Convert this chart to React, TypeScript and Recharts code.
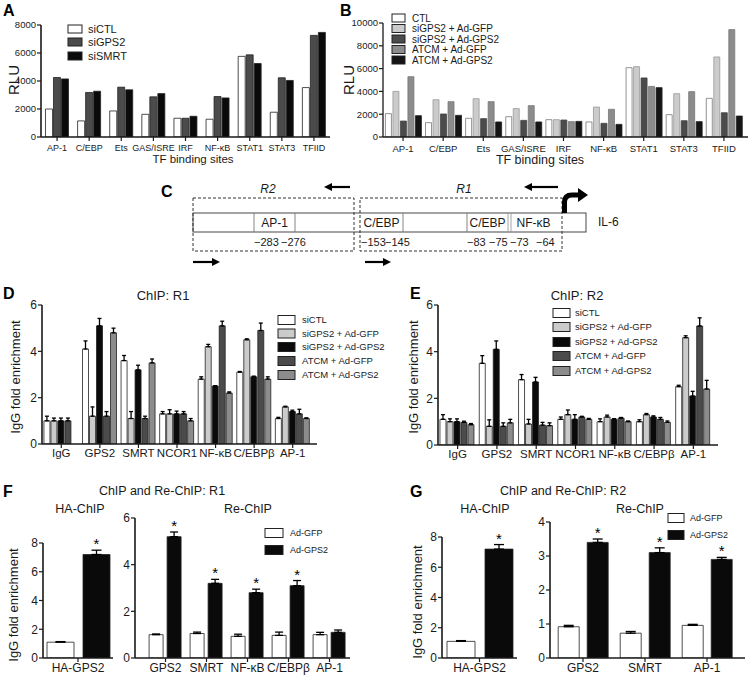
import React from 'react';
import { BarChart, Bar, XAxis, YAxis, ErrorBar, LabelList } from 'recharts';

const FONT = "'Liberation Sans', Arial, Helvetica, sans-serif";
const INK = '#1a1a1a';

// ---------- Panel A ----------
const aCats = ['AP-1', 'C/EBP', 'Ets', 'GAS/ISRE', 'IRF', 'NF-κB', 'STAT1', 'STAT3', 'TFIID'];
const aSiCTL = [2000, 1150, 1860, 1620, 1340, 1270, 5760, 1770, 3530];
const aSiGPS2 = [4250, 3180, 3560, 2870, 1340, 2890, 5870, 4230, 7260];
const aSiSMRT = [4150, 3270, 3370, 3100, 1480, 2790, 5250, 4040, 7470];
const aTicks = [0, 2000, 4000, 6000, 8000];

// ---------- Panel B ----------
const bCats = aCats;
const bCTL = [2050, 1260, 1640, 1780, 1520, 1320, 6080, 1960, 3390];
const bSiGfp = [4000, 3270, 3360, 2490, 1520, 2630, 6170, 3800, 7020];
const bSiGps2 = [1400, 2020, 1610, 1460, 1490, 1200, 5180, 1430, 2130];
const bAtGfp = [5290, 3100, 3100, 2750, 1350, 2430, 4440, 3980, 9420];
const bAtGps2 = [1870, 1900, 1320, 1320, 1370, 1110, 4330, 1350, 1840];
const bTicks = [0, 2000, 4000, 6000, 8000, 10000];

// ---------- Panel C (schematic) ----------
const cSites = ['AP-1', 'C/EBP', 'C/EBP', 'NF-κB'];
const cPositions = ['−283', '−276', '−153', '−145', '−83', '−75', '−73', '−64'];
const cRegions = ['R2', 'R1'];

// ---------- Panel D ----------
const dCats = ['IgG', 'GPS2', 'SMRT', 'NCOR1', 'NF-κB', 'C/EBPβ', 'AP-1'];
const dSiCTL = [1.0, 4.1, 3.6, 1.3, 2.8, 3.1, 1.1];
const dSiCTLErr = [0.2, 0.35, 0.22, 0.1, 0.1, 0.03, 0.05];
const dSiGfp = [1.0, 1.2, 1.1, 1.3, 4.2, 4.5, 1.6];
const dSiGfpErr = [0.12, 0.4, 0.3, 0.18, 0.1, 0.04, 0.03];
const dSiGps2 = [1.0, 5.1, 3.2, 1.3, 2.5, 2.9, 1.4];
const dSiGps2Err = [0.12, 0.32, 0.2, 0.12, 0.02, 0.03, 0.06];
const dAtGfp = [1.0, 1.2, 1.1, 1.3, 5.1, 4.9, 1.3];
const dAtGfpErr = [0.12, 0.2, 0.1, 0.1, 0.2, 0.32, 0.2];
const dAtGps2 = [null, 4.8, 3.5, 1.0, 2.2, 2.8, 1.1];
const dAtGps2Err = [null, 0.2, 0.17, 0.1, 0.05, 0.1, 0.03];
const dTicks = [0, 2, 4, 6];

// ---------- Panel E ----------
const eCats = dCats;
const eSiCTL = [1.1, 3.5, 2.8, 1.1, 1.0, 1.0, 2.5];
const eSiCTLErr = [0.2, 0.33, 0.22, 0.1, 0.12, 0.08, 0.06];
const eSiGfp = [1.0, 0.8, 0.9, 1.3, 1.2, 1.3, 4.6];
const eSiGfpErr = [0.12, 0.28, 0.2, 0.2, 0.08, 0.05, 0.08];
const eSiGps2 = [1.0, 4.1, 2.7, 1.1, 1.1, 1.2, 2.1];
const eSiGps2Err = [0.12, 0.36, 0.2, 0.2, 0.03, 0.05, 0.2];
const eAtGfp = [0.97, 0.8, 0.85, 1.2, 1.15, 1.1, 5.1];
const eAtGfpErr = [0.05, 0.15, 0.12, 0.03, 0.03, 0.08, 0.35];
const eAtGps2 = [0.87, 0.95, 0.83, 1.1, 1.0, 0.97, 2.4];
const eAtGps2Err = [0.05, 0.15, 0.12, 0.04, 0.03, 0.06, 0.37];

// ---------- Panel F ----------
const fHaCats = ['HA-GPS2'];
const fHaGfp = [1.1];
const fHaGfpErr = [0.04];
const fHaGps2 = [7.2];
const fHaGps2Err = [0.3];
const fHaStars = [true];
const haTicks = [0, 2, 4, 6, 8];
const fReCats = ['GPS2', 'SMRT', 'NF-κB', 'C/EBPβ', 'AP-1'];
const fReGfp = [1.0, 1.05, 0.93, 0.97, 1.0];
const fReGfpErr = [0.03, 0.06, 0.09, 0.14, 0.1];
const fReGps2 = [5.2, 3.2, 2.8, 3.1, 1.1];
const fReGps2Err = [0.2, 0.17, 0.15, 0.22, 0.1];
const fReStars = [true, true, true, true, false];
const fReTicks = [0, 2, 4, 6];

// ---------- Panel G ----------
const gHaCats = ['HA-GPS2'];
const gHaGfp = [1.1];
const gHaGfpErr = [0.05];
const gHaGps2 = [7.2];
const gHaGps2Err = [0.3];
const gHaStars = [true];
const gReCats = ['GPS2', 'SMRT', 'AP-1'];
const gReGfp = [0.92, 0.73, 0.96];
const gReGfpErr = [0.04, 0.05, 0.03];
const gReGps2 = [3.4, 3.1, 2.9];
const gReGps2Err = [0.1, 0.14, 0.06];
const gReStars = [true, true, true];
const gReTicks = [0, 1, 2, 3, 4];

// ---------- colours ----------
const WHITE = '#ffffff';
const LIGHT = '#cbcbcb';
const DARK = '#4b4b4b';
const MID = '#8c8c8c';
const BLACK = '#0a0a0a';

type S = {
  name: string;
  fill: string;
  values: (number | null)[];
  errs?: (number | null)[];
  stars?: boolean[];
  stroke?: string;
};

const aSeries: S[] = [
  { name: 'siCTL', fill: WHITE, values: aSiCTL },
  { name: 'siGPS2', fill: DARK, values: aSiGPS2 },
  { name: 'siSMRT', fill: BLACK, values: aSiSMRT },
];
const bSeries: S[] = [
  { name: 'CTL', fill: WHITE, values: bCTL, stroke: '#777' },
  { name: 'siGPS2 + Ad-GFP', fill: LIGHT, values: bSiGfp, stroke: '#999' },
  { name: 'siGPS2 + Ad-GPS2', fill: DARK, values: bSiGps2, stroke: '#444' },
  { name: 'ATCM + Ad-GFP', fill: MID, values: bAtGfp, stroke: '#777' },
  { name: 'ATCM + Ad-GPS2', fill: '#151515', values: bAtGps2 },
];
const dSeries: S[] = [
  { name: 'siCTL', fill: WHITE, values: dSiCTL, errs: dSiCTLErr },
  { name: 'siGPS2 + Ad-GFP', fill: LIGHT, values: dSiGfp, errs: dSiGfpErr },
  { name: 'siGPS2 + Ad-GPS2', fill: BLACK, values: dSiGps2, errs: dSiGps2Err },
  { name: 'ATCM + Ad-GFP', fill: DARK, values: dAtGfp, errs: dAtGfpErr },
  { name: 'ATCM + Ad-GPS2', fill: MID, values: dAtGps2, errs: dAtGps2Err },
];
const eSeries: S[] = [
  { name: 'siCTL', fill: WHITE, values: eSiCTL, errs: eSiCTLErr },
  { name: 'siGPS2 + Ad-GFP', fill: LIGHT, values: eSiGfp, errs: eSiGfpErr },
  { name: 'siGPS2 + Ad-GPS2', fill: BLACK, values: eSiGps2, errs: eSiGps2Err },
  { name: 'ATCM + Ad-GFP', fill: DARK, values: eAtGfp, errs: eAtGfpErr },
  { name: 'ATCM + Ad-GPS2', fill: MID, values: eAtGps2, errs: eAtGps2Err },
];
const fHaSeries: S[] = [
  { name: 'Ad-GFP', fill: WHITE, values: fHaGfp, errs: fHaGfpErr },
  { name: 'Ad-GPS2', fill: BLACK, values: fHaGps2, errs: fHaGps2Err, stars: fHaStars },
];
const fReSeries: S[] = [
  { name: 'Ad-GFP', fill: WHITE, values: fReGfp, errs: fReGfpErr },
  { name: 'Ad-GPS2', fill: BLACK, values: fReGps2, errs: fReGps2Err, stars: fReStars },
];
const gHaSeries: S[] = [
  { name: 'Ad-GFP', fill: WHITE, values: gHaGfp, errs: gHaGfpErr },
  { name: 'Ad-GPS2', fill: BLACK, values: gHaGps2, errs: gHaGps2Err, stars: gHaStars },
];
const gReSeries: S[] = [
  { name: 'Ad-GFP', fill: WHITE, values: gReGfp, errs: gReGfpErr },
  { name: 'Ad-GPS2', fill: BLACK, values: gReGps2, errs: gReGps2Err, stars: gReStars },
];

function buildData(cats: string[], series: S[]) {
  return cats.map((c, i) => {
    const row: any = { cat: c };
    series.forEach((s, j) => {
      row['v' + j] = s.values[i];
      if (s.errs) {
        const e = s.errs[i];
        row['e' + j] = e == null ? null : [0, e];
      }
    });
    return row;
  });
}

const YW = 40;
const MT = 10;
const MR = 2;
const XH = 30;

type PanelProps = {
  x0: number;
  x1: number;
  yTop: number;
  yBot: number;
  yMax: number;
  ticks: number[];
  cats: string[];
  series: S[];
  padL?: number;
  padR?: number;
  catGap: number | string;
  barGap: number;
  yFont: number;
  xFont: number;
  capW?: number;
  axisW?: number;
  xMargin?: number;
};

function Panel(p: PanelProps) {
  const data = buildData(p.cats, p.series);
  const width = YW + (p.x1 - p.x0) + MR;
  const height = MT + (p.yBot - p.yTop) + XH;
  const axisW = p.axisW ?? 1.6;
  return (
    <div style={{ position: 'absolute', left: p.x0 - YW, top: p.yTop - MT, width, height }}>
      <BarChart
        width={width}
        height={height}
        data={data}
        margin={{ top: MT, right: MR, left: 0, bottom: 0 }}
        barCategoryGap={p.catGap}
        barGap={p.barGap}
      >
        <XAxis
          dataKey="cat"
          interval={0}
          tickSize={4}
          tickMargin={p.xMargin ?? 1}
          height={XH}
          padding={{ left: p.padL ?? 0, right: p.padR ?? 0 }}
          axisLine={{ stroke: INK, strokeWidth: axisW }}
          tickLine={{ stroke: INK, strokeWidth: 1.2 }}
          tick={{ fill: INK, fontSize: p.xFont, fontFamily: FONT }}
        />
        <YAxis
          type="number"
          domain={[0, p.yMax]}
          ticks={p.ticks}
          width={YW}
          tickSize={4}
          tickMargin={1}
          allowDataOverflow
          axisLine={{ stroke: INK, strokeWidth: axisW }}
          tickLine={{ stroke: INK, strokeWidth: 1.2 }}
          tick={{ fill: INK, fontSize: p.yFont, fontFamily: FONT }}
        />
        {p.series.map((s, j) => (
          <Bar
            key={j}
            dataKey={'v' + j}
            fill={s.fill}
            stroke={s.stroke ?? '#222'}
            strokeWidth={0.8}
            isAnimationActive={false}
          >
            {s.errs ? (
              <ErrorBar
                dataKey={'e' + j}
                width={p.capW ?? 2.5}
                stroke="#000"
                strokeWidth={1.3}
                direction="y"
                isAnimationActive={false}
              />
            ) : null}
            {s.stars ? (
              <LabelList
                dataKey={'v' + j}
                content={(lp: any) => {
                  const idx = lp.index;
                  if (idx == null || !s.stars![idx]) return null;
                  const v = Number(lp.value);
                  const err = (s.errs && s.errs[idx]) || 0;
                  const errPx = v ? (err * Number(lp.height)) / v : 0;
                  return (
                    <text
                      x={Number(lp.x) + Number(lp.width) / 2}
                      y={Number(lp.y) - errPx - 1}
                      textAnchor="middle"
                      fontSize={15}
                      fontFamily={FONT}
                      fill="#000"
                    >
                      *
                    </text>
                  );
                }}
              />
            ) : null}
          </Bar>
        ))}
      </BarChart>
    </div>
  );
}

type LegendProps = {
  series: S[];
  bx: number;
  by: number[];
  bw: number;
  bh: number;
  tx: number;
  font: number;
};

function Legend({ series, bx, by, bw, bh, tx, font }: LegendProps) {
  return (
    <g>
      {series.map((s, i) => (
        <g key={i}>
          <rect x={bx} y={by[i] - bh / 2} width={bw} height={bh} fill={s.fill} stroke="#222" strokeWidth={1} />
          <text x={tx} y={by[i] + font * 0.36} fontSize={font} fontFamily={FONT} fill={INK}>
            {s.name}
          </text>
        </g>
      ))}
    </g>
  );
}

function Letter({ x, y, t }: { x: number; y: number; t: string }) {
  return (
    <text x={x} y={y} fontSize={16} fontWeight={900} fontFamily={FONT} fill="#000">
      {t}
    </text>
  );
}

function Txt({ x, y, t, size, anchor = 'middle', italic = false }: any) {
  return (
    <text
      x={x}
      y={y}
      fontSize={size}
      fontFamily={FONT}
      textAnchor={anchor}
      fontStyle={italic ? 'italic' : 'normal'}
      fill={INK}
    >
      {t}
    </text>
  );
}

function VLabel({ x, y, t, size }: any) {
  return (
    <text
      x={x}
      y={y}
      fontSize={size}
      fontFamily={FONT}
      textAnchor="middle"
      fill={INK}
      transform={`rotate(-90 ${x} ${y})`}
      dominantBaseline="central"
    >
      {t}
    </text>
  );
}

function Arrow({ x1, x2, y }: { x1: number; x2: number; y: number }) {
  const dir = x2 > x1 ? 1 : -1;
  const hx = x2 - dir * 8;
  return (
    <g>
      <line x1={x1} y1={y} x2={hx} y2={y} stroke="#000" strokeWidth={2.2} />
      <polygon points={`${x2},${y} ${hx},${y - 4} ${hx},${y + 4}`} fill="#000" />
    </g>
  );
}

function Schematic() {
  const top = 213;
  const bot = 232;
  const dash = '3,2';
  return (
    <g fontFamily={FONT}>
      <rect x={193} y={top} width={393} height={bot - top} fill="#fff" stroke="#333" strokeWidth={0.9} />
      <line x1={254} y1={top} x2={254} y2={bot} stroke="#777" strokeWidth={0.9} />
      <line x1={295} y1={top} x2={295} y2={bot} stroke="#777" strokeWidth={0.9} />
      <line x1={403} y1={top} x2={403} y2={bot} stroke="#777" strokeWidth={0.9} />
      <line x1={467} y1={top} x2={467} y2={bot} stroke="#777" strokeWidth={0.9} />
      <line x1={508} y1={top} x2={508} y2={bot} stroke="#999" strokeWidth={0.9} />
      <line x1={511} y1={top} x2={511} y2={bot} stroke="#999" strokeWidth={0.9} />
      <rect x={193} y={198} width={161} height={53} fill="none" stroke="#333" strokeWidth={1} strokeDasharray={dash} />
      <rect x={360} y={198} width={202} height={53} fill="none" stroke="#333" strokeWidth={1} strokeDasharray={dash} />
      <Txt x={274.5} y={227} t={cSites[0]} size={12} />
      <Txt x={381.5} y={227} t={cSites[1]} size={12} />
      <Txt x={487.5} y={227} t={cSites[2]} size={12} />
      <Txt x={533.5} y={227} t={cSites[3]} size={12} />
      <Txt x={254} y={246} t={cPositions[0]} size={11} anchor="start" />
      <Txt x={281} y={246} t={cPositions[1]} size={11} anchor="start" />
      <Txt x={361} y={246} t={cPositions[2]} size={11} anchor="start" />
      <Txt x={385} y={246} t={cPositions[3]} size={11} anchor="start" />
      <Txt x={467} y={246} t={cPositions[4]} size={11} anchor="start" />
      <Txt x={489} y={246} t={cPositions[5]} size={11} anchor="start" />
      <Txt x={510} y={246} t={cPositions[6]} size={11} anchor="start" />
      <Txt x={536} y={246} t={cPositions[7]} size={11} anchor="start" />
      <Txt x={268} y={193} t={cRegions[0]} size={12} italic />
      <Txt x={464} y={193} t={cRegions[1]} size={12} italic />
      <Arrow x1={350} x2={324} y={187} />
      <Arrow x1={558} x2={524} y={187} />
      <Arrow x1={193} x2={220} y={262} />
      <Arrow x1={365} x2={391} y={262} />
      <path d="M 564.5 213 L 564.5 202 Q 564.5 195 572 195 L 578 195" fill="none" stroke="#000" strokeWidth={5} />
      <polygon points="588,195 578,188 578,202" fill="#000" />
      <Txt x={598} y={226} t="IL-6" size={12} anchor="start" />
    </g>
  );
}

export default function App() {
  return (
    <div style={{ position: 'absolute', left: 0, top: 0, width: 756, height: 681, background: '#fff', overflow: 'hidden' }}>
      {/* A */}
      <Panel x0={41} x1={330} yTop={25} yBot={137} yMax={8000} ticks={aTicks} cats={aCats} series={aSeries}
        catGap="14%" barGap={1} yFont={9.5} xFont={9} xMargin={4} />
      {/* B */}
      <Panel x0={383} x1={748} yTop={23} yBot={137} yMax={10000} ticks={bTicks} cats={bCats} series={bSeries}
        padR={4} catGap="6%" barGap={1.5} yFont={9.5} xFont={9.5} axisW={1.3} xMargin={4} />
      {/* D */}
      <Panel x0={42} x1={317} yTop={305} yBot={444} yMax={6} ticks={dTicks} cats={dCats} series={dSeries}
        padR={5} catGap="5%" barGap={1} yFont={12} xFont={11.5} capW={2} />
      {/* E */}
      <Panel x0={438} x1={718} yTop={305} yBot={445} yMax={6} ticks={dTicks} cats={eCats} series={eSeries}
        padR={5} catGap="5%" barGap={1} yFont={12} xFont={11.5} capW={2} />
      {/* F */}
      <Panel x0={43} x1={113} yTop={543} yBot={658} yMax={8} ticks={haTicks} cats={fHaCats} series={fHaSeries}
        catGap={4} barGap={9} yFont={12} xFont={12} capW={5} />
      <Panel x0={135} x1={350} yTop={518} yBot={658} yMax={6} ticks={fReTicks} cats={fReCats} series={fReSeries}
        padL={10} catGap="10%" barGap={4} yFont={12} xFont={12} capW={4} />
      {/* G */}
      <Panel x0={442} x1={517} yTop={537} yBot={658} yMax={8} ticks={haTicks} cats={gHaCats} series={gHaSeries}
        catGap={5} barGap={10} yFont={12} xFont={12} capW={5} />
      <Panel x0={550} x1={745} yTop={522} yBot={658} yMax={4} ticks={gReTicks} cats={gReCats} series={gReSeries}
        padL={2} padR={7} catGap="10%" barGap={8} yFont={12} xFont={12} capW={5} />

      <svg width={756} height={681} style={{ position: 'absolute', left: 0, top: 0, pointerEvents: 'none' }}>
        <Letter x={3} y={16} t="A" />
        <Letter x={340} y={16} t="B" />
        <Letter x={161} y={197} t="C" />
        <Letter x={3} y={299} t="D" />
        <Letter x={410} y={299} t="E" />
        <Letter x={3} y={497} t="F" />
        <Letter x={410} y={497} t="G" />

        <VLabel x={13} y={80} t="RLU" size={15} />
        <Txt x={193} y={163} t="TF binding sites" size={11.5} />
        <Legend series={aSeries} bx={68} by={[29, 42, 56]} bw={14} bh={8} tx={88} font={11} />

        <VLabel x={348} y={80} t="RLU" size={15} />
        <Txt x={540} y={164} t="TF binding sites" size={12.5} />
        <Legend series={bSeries} bx={392} by={[18, 28.5, 39, 49.5, 60]} bw={13} bh={8} tx={412} font={10} />

        <Schematic />

        <Txt x={163} y={300} t="ChIP: R1" size={13} />
        <VLabel x={15} y={377} t="IgG fold enrichment" size={13} />
        <Legend series={dSeries} bx={278} by={[320, 333.5, 347, 361, 375]} bw={17} bh={9} tx={302} font={9.5} />

        <Txt x={577} y={300} t="ChIP: R2" size={13} />
        <VLabel x={413} y={377} t="IgG fold enrichment" size={13} />
        <Legend series={eSeries} bx={553} by={[313, 327, 342, 356, 371]} bw={17} bh={9} tx={575} font={9.5} />

        <Txt x={162} y={495} t="ChIP and Re-ChIP: R1" size={12.5} />
        <Txt x={80} y={513} t="HA-ChIP" size={12.5} />
        <Txt x={248} y={513} t="Re-ChIP" size={12.5} />
        <VLabel x={13} y={605} t="IgG fold enrichment" size={13} />
        <Legend series={fReSeries} bx={265} by={[533, 550]} bw={18} bh={9} tx={290} font={9} />

        <Txt x={563} y={495} t="ChIP and Re-ChIP: R2" size={12.5} />
        <Txt x={485} y={513} t="HA-ChIP" size={12.5} />
        <Txt x={640} y={513} t="Re-ChIP" size={12.5} />
        <VLabel x={417} y={602} t="IgG fold enrichment" size={13} />
        <Legend series={gReSeries} bx={668} by={[518, 535]} bw={16} bh={9} tx={690} font={9} />
      </svg>
    </div>
  );
}
